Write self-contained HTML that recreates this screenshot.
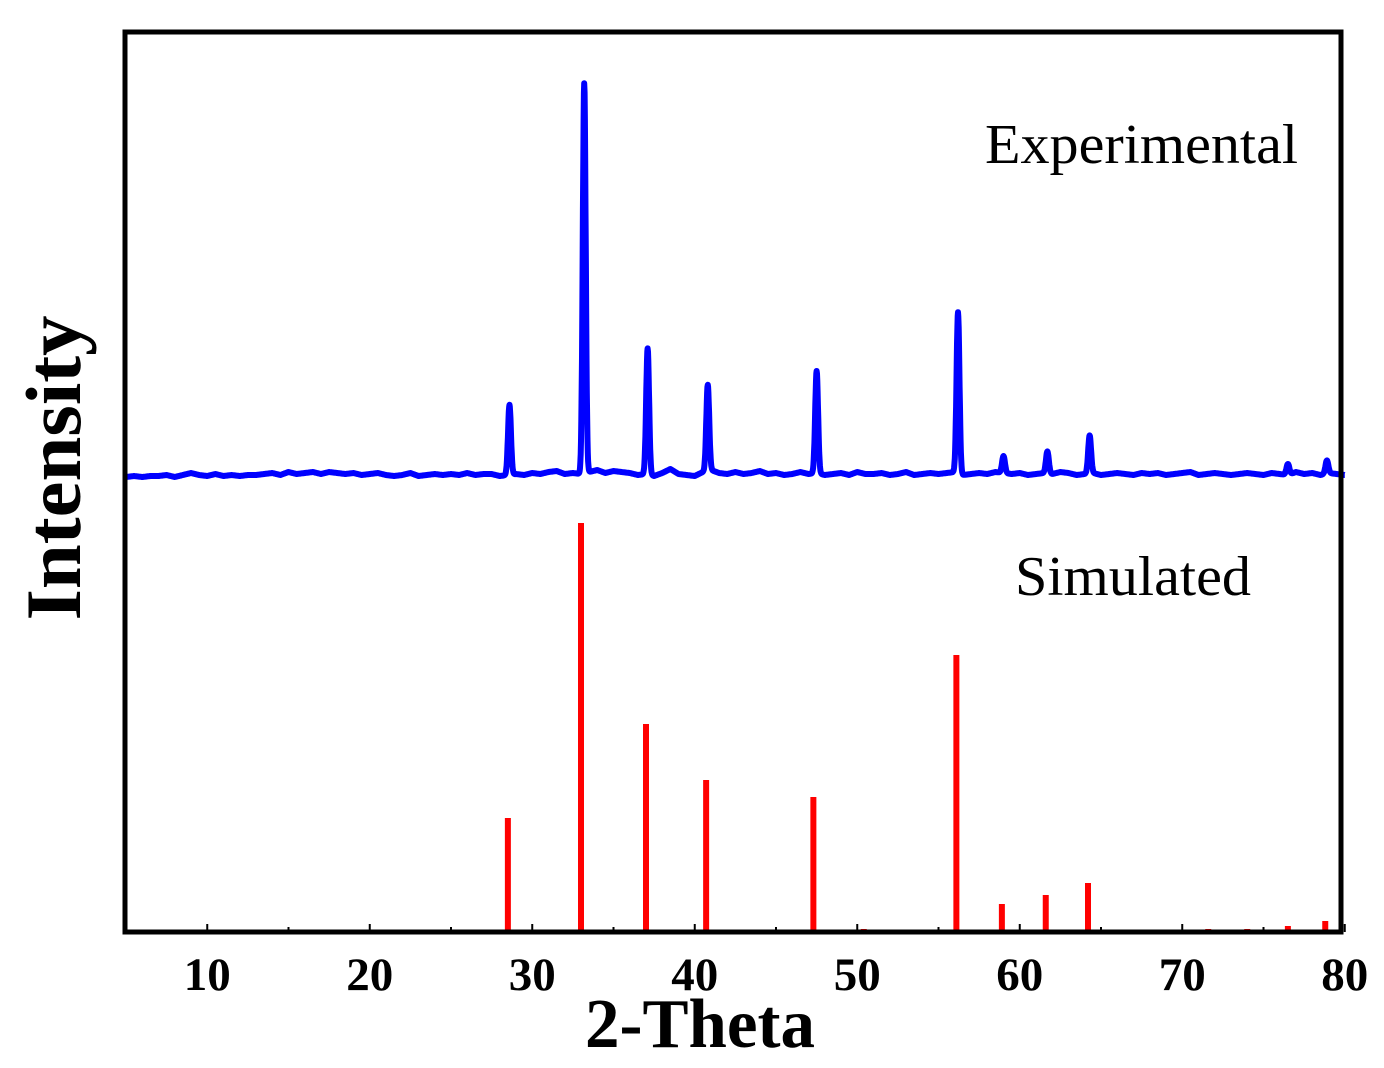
<!DOCTYPE html>
<html><head><meta charset="utf-8"><style>
html,body{margin:0;padding:0;background:#fff;}
svg{display:block;}
</style></head><body>
<svg id="chart" width="1384" height="1068" viewBox="0 0 1384 1068" xmlns="http://www.w3.org/2000/svg">
<g id="plot"></g>
<rect x="125" y="32" width="1216" height="900" fill="none" stroke="#000" stroke-width="5"/>
<g id="ticks"></g>
<text x="985" y="163" font-family="Liberation Serif, serif" font-size="56" textLength="313" lengthAdjust="spacingAndGlyphs">Experimental</text>
<text x="1015" y="595" font-family="Liberation Serif, serif" font-size="56" textLength="236" lengthAdjust="spacingAndGlyphs">Simulated</text>
<text transform="translate(80,468) rotate(-90)" text-anchor="middle" font-family="Liberation Serif, serif" font-weight="bold" font-size="78" textLength="305" lengthAdjust="spacingAndGlyphs">Intensity</text>
<text x="700" y="1047" text-anchor="middle" font-family="Liberation Serif, serif" font-weight="bold" font-size="70" textLength="230" lengthAdjust="spacingAndGlyphs">2-Theta</text>
</svg>
<script>
const xTicks = [10,20,30,40,50,60,70,80];
const expPeakPos = [28.6,33.2,37.1,40.8,47.5,56.2,59.0,61.7,64.3,76.5,78.9];
const expPeakHeight = [70,390,126,86,102,161,17,22,38,11,13];
const expBackground = [1,2,1,2,2,3,1,3,5,3,2,4,2,3,2,3,3,4,5,3,6,4,5,6,4,6,5,4,5,3,4,5,3,2,3,5,2,3,4,3,4,3,5,3,4,4,2,3,4,3,5,4,6,7,4,5,4,6,8,5,7,6,5,3,4,2,5,9,4,3,2,6,8,5,4,6,4,5,7,4,5,3,4,6,4,5,3,4,5,3,6,4,4,5,3,4,6,3,4,5,4,5,6,3,4,5,4,6,5,4,5,3,4,5,4,6,5,3,4,5,3,4,5,4,3,5,4,5,3,4,5,6,3,4,5,4,3,4,5,4,3,5,4,3,6,4,5,3,5,4,3];
const simPeakPos = [28.5,33.0,37.0,40.7,47.3,50.4,56.1,58.9,61.6,64.2,71.6,74.0,76.5,78.8];
const simPeakHeight = [114,409,208,152,135,3,277,28,37,49,3,3,6,11];

const NS='http://www.w3.org/2000/svg';
const xs = v => 126 + (v-5)*16.25;
const yExp = h => 478 - h;
const ySim = h => 932 - h;
const plot = document.getElementById('plot');
const ticks = document.getElementById('ticks');

let pts=[];
for(let v=5; v<=80.001; v+=0.02){
  const i=Math.min(Math.floor((v-5)/0.5), expBackground.length-2);
  const f=(v-5)/0.5-i;
  let h=expBackground[i]*(1-f)+expBackground[i+1]*f;
  for(let k=0;k<expPeakPos.length;k++){
    const d=(v-expPeakPos[k])/0.09;
    h+=expPeakHeight[k]*Math.exp(-d*d/2);
  }
  pts.push(xs(v).toFixed(1)+','+yExp(h).toFixed(1));
}
const line=document.createElementNS(NS,'polyline');
line.setAttribute('points',pts.join(' '));
line.setAttribute('fill','none');
line.setAttribute('stroke','#0000ff');
line.setAttribute('stroke-width','6');
line.setAttribute('stroke-linejoin','round');


plot.appendChild(line);

simPeakPos.forEach((p,k)=>{
  const r=document.createElementNS(NS,'line');
  r.setAttribute('x1',xs(p)); r.setAttribute('x2',xs(p));
  r.setAttribute('y1',ySim(0)); r.setAttribute('y2',ySim(simPeakHeight[k]));
  r.setAttribute('stroke','#ff0000'); r.setAttribute('stroke-width','6');
  
  
  plot.appendChild(r);
});

for(let v=5; v<=80; v+=5){
  const t=document.createElementNS(NS,'line');
  t.setAttribute('x1',xs(v)); t.setAttribute('x2',xs(v));
  t.setAttribute('y1',932); t.setAttribute('y2',v%10===0?924:927);
  t.setAttribute('stroke','#000'); t.setAttribute('stroke-width','2');
  
  
  ticks.appendChild(t);
}
xTicks.forEach(v=>{
  const tx=document.createElementNS(NS,'text');
  tx.setAttribute('x',xs(v)); tx.setAttribute('y',990);
  tx.setAttribute('text-anchor','middle');
  tx.setAttribute('font-family','Liberation Serif, serif');
  tx.setAttribute('font-weight','bold');
  tx.setAttribute('font-size','47');
  tx.textContent=v;
  
  
  ticks.appendChild(tx);
});
</script>
</body></html>
